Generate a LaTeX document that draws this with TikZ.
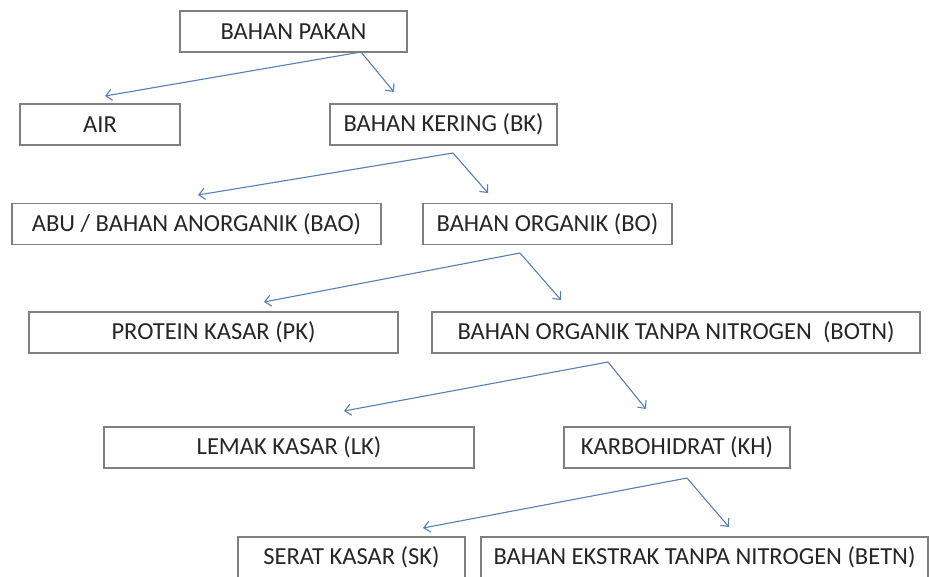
\documentclass[tikz,border=0pt]{standalone}
\usepackage{fontspec}
\setmainfont{Carlito}
\usepackage{tikz}
\usetikzlibrary{calc, arrows.meta, positioning}
\tikzset{
    boxnode/.style = {draw=boxgray, line width=1.1pt, rectangle, fill=white, inner sep=0pt,
      minimum height=41pt, text=textgray, font=\fontsize{24.5pt}{29pt}\selectfont, node distance=0em},
    splitnode/.style = {coordinate, node distance=0em},
    connect/.style = {arrowblue, line width=1.1pt, -{Straight Barb[length=6pt, width=11pt]}}
}
\definecolor{boxgray}{RGB}{127, 127, 127}
\definecolor{arrowblue}{RGB}{84, 128, 180}
\definecolor{textgray}{RGB}{38, 38, 38}

\begin{document}
\begin{tikzpicture}[node distance=0em]
    \useasboundingbox (0,0) rectangle (929pt,-576pt);

    \node[boxnode, name=BP, minimum width=227pt] at (293.5pt,-31.5pt) {BAHAN PAKAN};
    \node[boxnode, name=AIR, below of=BP, xshift=-193.5pt, yshift=-93pt, minimum width=160pt] {AIR};
    \node[boxnode, name=BK, below of=BP, xshift=150pt, yshift=-93pt, minimum width=227pt] {BAHAN KERING (BK)};
    \node[splitnode, name=BP-split, below of=BP, xshift=67.5pt, yshift=-20.5pt] {};
    \coordinate[below of=AIR, xshift=5pt, yshift=28.5pt] (AIR-in);
    \coordinate[below of=BK, xshift=-49.5pt, yshift=32.5pt] (BK-in);
    \draw (BP-split) edge[connect] (AIR-in);
    \draw (BP-split) edge[connect] (BK-in);

    \node[boxnode, name=ABU, below of=BK, xshift=-247pt, yshift=-99.5pt, minimum width=369pt] {ABU / BAHAN ANORGANIK (BAO)};
    \node[boxnode, name=BO, below of=BK, xshift=104pt, yshift=-99.5pt, minimum width=249pt] {BAHAN ORGANIK (BO)};
    \node[splitnode, name=BK-split, below of=BK, xshift=9.5pt, yshift=-28.5pt] {};
    \coordinate[below of=ABU, xshift=1.5pt, yshift=29pt] (ABU-in);
    \coordinate[below of=BO, xshift=-59.5pt, yshift=31pt] (BO-in);
    \draw (BK-split) edge[connect] (ABU-in);
    \draw (BK-split) edge[connect] (BO-in);

    \node[boxnode, name=PK, below of=BO, xshift=-334pt, yshift=-108.5pt, minimum width=369pt] {PROTEIN KASAR (PK)};
    \node[boxnode, name=BOTN, below of=BO, xshift=128.5pt, yshift=-108.5pt, minimum width=488pt] {BAHAN ORGANIK TANPA NITROGEN~ (BOTN)};
    \node[splitnode, name=BO-split, below of=BO, xshift=-27.5pt, yshift=-29pt] {};
    \coordinate[below of=PK, xshift=50.5pt, yshift=30.5pt] (PK-in);
    \coordinate[below of=BOTN, xshift=-115pt, yshift=32.5pt] (BOTN-in);
    \draw (BO-split) edge[connect] (PK-in);
    \draw (BO-split) edge[connect] (BOTN-in);

    \node[boxnode, name=LK, below of=BOTN, xshift=-387pt, yshift=-115pt, minimum width=370pt] {LEMAK KASAR (LK)};
    \node[boxnode, name=KH, below of=BOTN, xshift=1pt, yshift=-115pt, minimum width=226pt] {KARBOHIDRAT (KH)};
    \node[splitnode, name=BOTN-split, below of=BOTN, xshift=-68pt, yshift=-29.5pt] {};
    \coordinate[below of=LK, xshift=55pt, yshift=36.5pt] (LK-in);
    \coordinate[below of=KH, xshift=-31pt, yshift=38.5pt] (KH-in);
    \draw (BOTN-split) edge[connect] (LK-in);
    \draw (BOTN-split) edge[connect] (KH-in);

    \node[boxnode, name=SK, below of=KH, xshift=-325.5pt, yshift=-110pt, minimum width=227pt] {SERAT KASAR (SK)};
    \node[boxnode, name=BETN, below of=KH, xshift=27.5pt, yshift=-110pt, minimum width=447pt] {BAHAN EKSTRAK TANPA NITROGEN (BETN)};
    \node[splitnode, name=KH-split, below of=KH, xshift=10pt, yshift=-30.5pt] {};
    \coordinate[below of=SK, xshift=71.5pt, yshift=29.5pt] (SK-in);
    \coordinate[below of=BETN, xshift=24.5pt, yshift=30.5pt] (BETN-in);
    \draw (KH-split) edge[connect] (SK-in);
    \draw (KH-split) edge[connect] (BETN-in);
\end{tikzpicture}
\end{document}
